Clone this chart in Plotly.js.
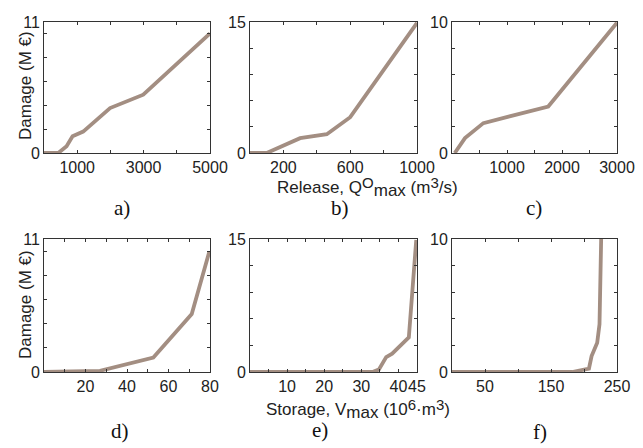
<!DOCTYPE html>
<html>
<head>
<meta charset="utf-8">
<script src="https://cdn.plot.ly/plotly-3.0.1.min.js"></script>
<style>html,body{margin:0;padding:0;background:#fff;}#chart{width:643px;height:448px;}</style>
</head>
<body>
<div id="chart"></div>
<script>
// Panel a) Release vs damage
var aX = [0, 430, 680, 860, 1180, 1990, 2990, 5000];
var aY = [0, 0, 0.56, 1.4, 1.8, 3.77, 4.9, 10.05];
// Panel b)
var bX = [0, 100, 300, 460, 600, 1000];
var bY = [0, 0, 1.7, 2.15, 4.1, 14.9];
// Panel c)
var cX = [50, 236, 570, 1750, 3000];
var cY = [0, 1.14, 2.28, 3.55, 9.95];
// Panel d) Storage vs damage
var dX = [0, 27, 52.7, 71.2, 79.7];
var dY = [0, 0.1, 1.19, 4.79, 9.97];
// Panel e)
var eX = [0, 33, 34.7, 36.7, 38.3, 42.8, 44.8];
var eY = [0, 0, 0.27, 1.68, 2.07, 3.9, 14.9];
// Panel f)
var fX = [0, 182, 207.5, 211.5, 220, 223.5, 226];
var fY = [0, 0, 0.25, 1.2, 2.2, 3.6, 10];

var xTicks = {
  a: {vals:[1000,2000,3000,4000,5000], text:['1000','','3000','','5000'], range:[0,5000]},
  b: {vals:[200,400,600,800,1000], text:['200','','600','','1000'], range:[0,1000]},
  c: {vals:[500,1000,1500,2000,2500,3000], text:['','1000','','2000','','3000'], range:[0,3000]},
  d: {vals:[10,20,30,40,50,60,70,80], text:['','20','','40','','60','','80'], range:[0,80]},
  e: {vals:[5,10,15,20,25,30,35,40,45], text:['','10','','20','','30','','40','45'], range:[0,45]},
  f: {vals:[50,100,150,200,250], text:['50','','150','','250'], range:[0,250]}
};
var yTicks = {
  a: {vals:[0,2,4,6,8,10,11], text:['0','','','','','','11'], range:[0,11]},
  b: {vals:[0,3,6,9,12,15], text:['0','','','','','15'], range:[0,15]},
  c: {vals:[0,2,4,6,8,10], text:['0','','','','','10'], range:[0,10]},
  d: {vals:[0,2,4,6,8,10,11], text:['0','','','','','','11'], range:[0,11]},
  e: {vals:[0,3,6,9,12,15], text:['0','','','','','15'], range:[0,15]},
  f: {vals:[0,2,4,6,8,10], text:['0','','','','','10'], range:[0,10]}
};

var W = 643, H = 448;
var colsPx = [[44,210],[250,417],[452,617]];
var rowsPx = [[22,153],[239,372]];
var keys = ['a','b','c','d','e','f'];
var xs = [aX,bX,cX,dX,eX,fX];
var ys = [aY,bY,cY,dY,eY,fY];
var lineColor = '#a38e82';
var sansFont = '"Liberation Sans", Arial, sans-serif';

var data = [];
var layout = {
  width: W, height: H,
  margin: {l:0, r:0, t:0, b:0},
  paper_bgcolor: '#fff', plot_bgcolor: '#fff',
  showlegend: false,
  font: {family: sansFont, size: 16, color: '#222'},
  annotations: []
};

keys.forEach(function(k, i){
  var n = i + 1;
  var sfx = (n === 1 ? '' : String(n));
  data.push({
    x: xs[i], y: ys[i], type: 'scatter', mode: 'lines',
    xaxis: 'x' + sfx, yaxis: 'y' + sfx,
    line: {color: lineColor, width: 3.8}, hoverinfo: 'none'
  });
  var c = colsPx[i % 3], r = rowsPx[Math.floor(i / 3)];
  var common = {
    showline: true, linecolor: '#333', linewidth: 1, mirror: 'ticks',
    ticks: 'inside', ticklen: 3, tickcolor: '#333', showgrid: false, zeroline: false,
    tickmode: 'array', fixedrange: true, tickangle: 0,
    tickfont: {family: sansFont, size: 16, color: '#222'}
  };
  layout['xaxis' + sfx] = Object.assign({}, common, {
    domain: [c[0]/W, c[1]/W], anchor: 'y' + sfx,
    range: xTicks[k].range, tickvals: xTicks[k].vals, ticktext: xTicks[k].text, ticklabelstandoff: 0
  });
  layout['yaxis' + sfx] = Object.assign({}, common, {
    domain: [1 - r[1]/H, 1 - r[0]/H], anchor: 'x' + sfx,
    range: yTicks[k].range, tickvals: yTicks[k].vals, ticktext: yTicks[k].text
  });
});

var panelLabels = [
  {t:'a)', x:122, y:208}, {t:'b)', x:340, y:208}, {t:'c)', x:534, y:208},
  {t:'d)', x:120, y:431}, {t:'e)', x:320, y:430}, {t:'f)', x:540, y:432}
];
panelLabels.forEach(function(p){
  layout.annotations.push({
    text: p.t, xref: 'paper', yref: 'paper', x: p.x/W, y: 1 - p.y/H,
    xanchor: 'center', yanchor: 'middle', showarrow: false,
    font: {family: '"Liberation Serif", "Times New Roman", serif', size: 21, color: '#111'}
  });
});

function up(s){ return '<span style="baseline-shift:5px;font-size:15px">' + s + '</span>'; }
function dn(s){ return '<span style="baseline-shift:-3px">' + s + '</span>'; }
var axisTitles = [
  {t:'Damage (M €)', x:25, y:86, rot:-90},
  {t:'Damage (M €)', x:25, y:305, rot:-90},
  {t:'Release, Q' + up('O') + dn('max') + ' (m' + up('3') + '/s)', x:367, y:187, rot:0},
  {t:'Storage, V' + dn('max') + ' (10' + up('6') + '·m' + up('3') + ')', x:358, y:409, rot:0}
];
axisTitles.forEach(function(p){
  layout.annotations.push({
    text: p.t, xref: 'paper', yref: 'paper', x: p.x/W, y: 1 - p.y/H,
    xanchor: 'center', yanchor: 'middle', showarrow: false, textangle: p.rot,
    font: {family: sansFont, size: 17, color: '#222'}
  });
});

Plotly.newPlot('chart', data, layout, {staticPlot: true});
</script>
</body>
</html>
